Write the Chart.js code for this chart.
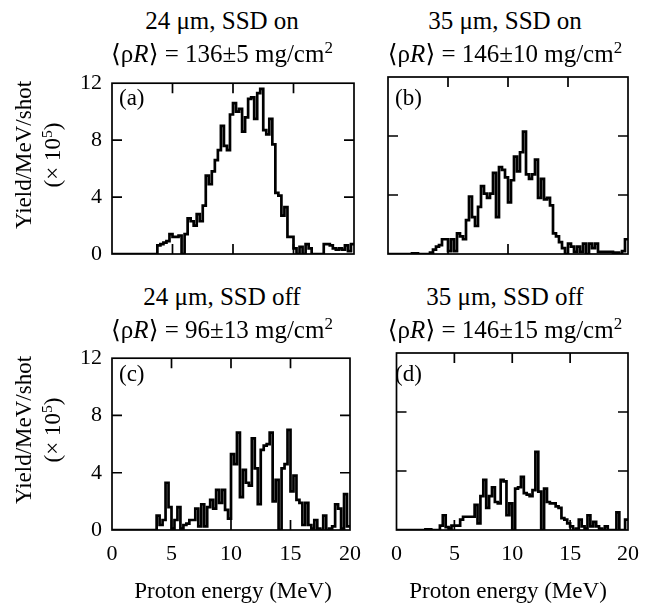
<!DOCTYPE html>
<html><head><meta charset="utf-8">
<script src="https://cdn.jsdelivr.net/npm/chart.js@4/dist/chart.umd.min.js"></script>
<style>
body{margin:0;background:#fff;width:653px;height:605px;overflow:hidden;position:relative;font-family:"Liberation Serif","DejaVu Serif",serif;color:#000}
canvas{position:absolute}
.t{position:absolute;transform:translate(-50%,-50%);text-align:center;font-size:25px;line-height:1;white-space:nowrap}
.xt{position:absolute;transform:translate(-50%,-50%);text-align:center;font-size:23px;line-height:1;white-space:nowrap}
.lab{position:absolute;font-size:23px;line-height:1;transform:translateY(-50%)}
.yt{position:absolute;transform:translate(-50%,-50%) rotate(-90deg);text-align:center;font-size:23px;line-height:29px;white-space:nowrap}
sup{font-size:0.68em;vertical-align:0.5em;line-height:0}
</style>
</head><body>
<canvas id="ca"></canvas><canvas id="cb"></canvas><canvas id="cc"></canvas><canvas id="cd"></canvas>

<div class="t" style="left:222px;top:20px">24 μm, SSD on</div>
<div class="t" style="left:222px;top:53px">⟨ρ<i>R</i>⟩ = 136±5 mg/cm<sup>2</sup></div>
<div class="t" style="left:505px;top:20px">35 μm, SSD on</div>
<div class="t" style="left:505px;top:53px">⟨ρ<i>R</i>⟩ = 146±10 mg/cm<sup>2</sup></div>
<div class="t" style="left:222px;top:296px">24 μm, SSD off</div>
<div class="t" style="left:222px;top:329px">⟨ρ<i>R</i>⟩ = 96±13 mg/cm<sup>2</sup></div>
<div class="t" style="left:505px;top:296px">35 μm, SSD off</div>
<div class="t" style="left:505px;top:329px">⟨ρ<i>R</i>⟩ = 146±15 mg/cm<sup>2</sup></div>

<div class="yt" style="left:38px;top:155px">Yield/MeV/shot<br>(× 10<sup>5</sup>)</div>
<div class="yt" style="left:38px;top:430px">Yield/MeV/shot<br>(× 10<sup>5</sup>)</div>

<div class="xt" style="left:233px;top:590px">Proton energy (MeV)</div>
<div class="xt" style="left:508px;top:590px">Proton energy (MeV)</div>

<div class="lab" style="left:119px;top:97px">(a)</div>
<div class="lab" style="left:395px;top:97px">(b)</div>
<div class="lab" style="left:119px;top:373px">(c)</div>
<div class="lab" style="left:395px;top:373px">(d)</div>

<script>
// ---- data (yield per MeV per shot, x 10^5), 0.25 MeV bins starting at 0 MeV ----
const binWidth = 0.25;
const xTicks = [0, 5, 10, 15, 20];
const yTicks = [0, 4, 8, 12];

const yieldA = [0,0,0,0,0,0,0,0,0,0,0,0,0,0,0,
  0.6,0.7,0.8,0.9,1.4,1.2,1.2,1.3,0,1.4,2.5,2.3,2.0,2.8,2.3,3.4,5.5,4.9,5.8,6.6,7.3,9.0,7.6,7.3,9.8,
  10.6,10.0,10.2,8.6,9.6,10.9,11.0,9.5,11.3,11.6,8.7,8.4,9.5,7.7,4.3,4.1,2.7,3.3,1.2,1.2,
  0.4,0,0.5,0,0.7,0.4,0,0,0,0,0.7,0.7,0.6,0.4,0.3,0.4,0.3,0.6,0.2,0.7];

const yieldB = [0,0,0,0,0,0,0,0,0.05,0.05,0,0,0,0,0.1,
  0.3,0.5,0.6,1.0,1.0,0.2,1.0,0.2,1.4,1.2,1.0,2.3,3.9,2.5,1.9,3.2,4.6,4.1,3.8,4.1,5.5,2.5,5.9,5.7,5.2,
  3.5,5.0,6.6,5.6,6.9,8.3,5.4,5.1,5.4,6.4,3.8,5.1,3.7,3.8,3.3,1.4,1.2,0.8,0.4,0,
  0.7,0.5,0.15,0.5,0.15,0.7,0,0.7,0.4,0.7,0.15,0.15,0.15,0.15,0.15,0.1,0.1,0,0.2,1.0];

const yieldC = [0,0,0,0,0,0,0,0,0,0,0,0,0,0,0,
  1.0,0.35,0.7,3.3,1.6,0.1,0.7,1.6,0.1,0.35,0.45,0.7,0.7,1.5,0.25,1.8,0.25,1.6,2.1,1.5,2.8,1.9,2.8,1.4,0.8,
  5.3,4.6,6.8,2.3,4.2,3.3,3.1,6.4,4.3,1.8,5.6,5.9,6.0,6.8,2.0,3.5,0,4.3,4.6,7.0,
  2.7,3.8,2.1,1.9,0.35,1.9,0.35,0.1,0.7,0.1,0,1.0,0,0.1,0.25,1.8,1.5,0.1,2.5,0.25];

const yieldD = [0,0,0,0,0,0,0,0,0,0,0.05,0.05,0,0,0,
  0.3,1.0,0.2,0.1,0.3,0.3,0.3,0.7,0.9,0.9,0.9,0.9,1.7,0.45,2.3,3.4,1.5,2.3,2.9,1.9,1.8,3.4,3.3,1.0,1.8,
  0,2.8,2.9,3.6,2.5,2.4,2.3,2.7,5.3,2.6,0,2.8,1.9,1.8,1.8,1.6,1.5,0.8,0.7,0.45,
  0.25,0,0.1,0.7,0.25,0.1,1.0,0.25,0.55,0.25,0.1,0,0.25,0,0,0,1.2,0,0,0.7];

// ---- helpers ----
function histPoints(vals){
  const pts = vals.map((v,i)=>({x:i*binWidth, y:v}));
  pts.push({x:vals.length*binWidth, y:vals[vals.length-1]});
  return pts;
}

const FONT = {family:'"Liberation Serif", "DejaVu Serif", serif', size:22};

const framePlugin = {
  id:'frame',
  afterDatasetsDraw(chart){
    const {ctx, chartArea:a, scales:{x,y}} = chart;
    ctx.save();
    ctx.strokeStyle='#000';
    ctx.lineWidth=1.7;
    ctx.strokeRect(a.left, a.top, a.right-a.left, a.bottom-a.top);
    const L=10;
    ctx.beginPath();
    xTicks.slice(1,-1).forEach(v=>{
      const px=x.getPixelForValue(v);
      ctx.moveTo(px,a.bottom); ctx.lineTo(px,a.bottom-L);
      ctx.moveTo(px,a.top); ctx.lineTo(px,a.top+L);
    });
    yTicks.slice(1,-1).forEach(v=>{
      const py=y.getPixelForValue(v);
      ctx.moveTo(a.left,py); ctx.lineTo(a.left+L,py);
      ctx.moveTo(a.right,py); ctx.lineTo(a.right-L,py);
    });
    ctx.stroke();
    ctx.restore();
  }
};

function makeChart(id, vals, cfg){
  const cv = document.getElementById(id);
  cv.width = cfg.w; cv.height = cfg.h;
  cv.style.left = cfg.left+'px'; cv.style.top = cfg.top+'px';
  cv.style.width = cfg.w+'px'; cv.style.height = cfg.h+'px';
  return new Chart(cv, {
    type:'line',
    data:{datasets:[{
      data: histPoints(vals),
      stepped:'before',
      borderColor:'#000',
      borderWidth:2.7,
      borderJoinStyle:'miter',
      pointRadius:0,
      fill:false,
      tension:0
    }]},
    options:{
      responsive:false,
      animation:false,
      devicePixelRatio:1,
      layout:{padding:cfg.pad},
      plugins:{legend:{display:false}, tooltip:{enabled:false}},
      scales:{
        x:{
          type:'linear', min:0, max:20,
          display: true,
          grid:{display:false, drawTicks:false},
          border:{display:false},
          afterBuildTicks: s=>{ s.ticks = xTicks.map(v=>({value:v})); },
          ticks:{display: cfg.xLabels, font:FONT, color:'#000', padding:11, maxRotation:0, autoSkip:false},
          afterFit: s=>{ s.height = cfg.xH; }
        },
        y:{
          type:'linear', min:0, max:12,
          display: cfg.yLabels,
          grid:{display:false, drawTicks:false},
          border:{display:false},
          afterBuildTicks: s=>{ s.ticks = yTicks.map(v=>({value:v})); },
          ticks:{font:FONT, color:'#000', padding:10, autoSkip:false},
          afterFit: s=>{ if(cfg.yLabels) s.width = cfg.yW; }
        }
      }
    },
    plugins:[framePlugin]
  });
}

makeChart('ca', yieldA, {left:0, top:60, w:372, h:220, pad:{left:0,right:18,top:17,bottom:0}, yLabels:true, yW:112, xLabels:false, xH:26});
makeChart('cb', yieldB, {left:380, top:60, w:270, h:220, pad:{left:8,right:22,top:17,bottom:0}, yLabels:false, xLabels:false, xH:26});
makeChart('cc', yieldC, {left:0, top:335, w:372, h:270, pad:{left:0,right:18,top:18,bottom:0}, yLabels:true, yW:112, xLabels:true, xH:75});
makeChart('cd', yieldD, {left:380, top:335, w:270, h:270, pad:{left:8,right:22,top:18,bottom:0}, yLabels:false, xLabels:true, xH:75});
</script>
</body></html>
